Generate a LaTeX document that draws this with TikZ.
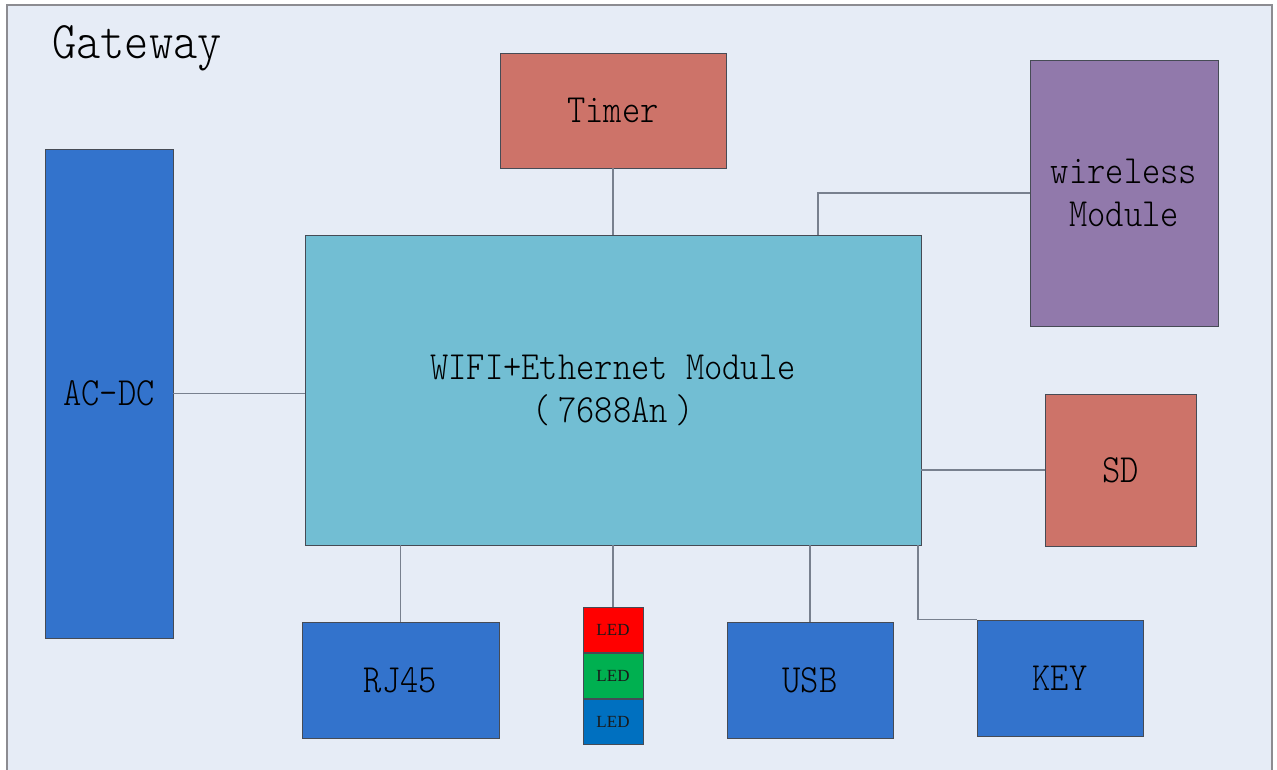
\documentclass[tikz,border=0pt]{standalone}
\usepackage{fontspec}
\usepackage{graphicx}
\newfontfamily\thinmono{Latin Modern Mono Light}
\newfontfamily\ledfont{Liberation Serif}
\definecolor{pagebg}{RGB}{230,236,246}
\definecolor{framegray}{RGB}{140,140,145}
\definecolor{edgegray}{RGB}{70,75,85}
\definecolor{wiregray}{RGB}{120,128,142}
\definecolor{bluebox}{RGB}{51,115,204}
\definecolor{redbox}{RGB}{205,115,105}
\definecolor{violetbox}{RGB}{145,121,171}
\definecolor{cyanbox}{RGB}{114,190,211}
\definecolor{ledred}{RGB}{255,0,0}
\definecolor{ledgreen}{RGB}{0,176,80}
\definecolor{ledblue}{RGB}{0,112,192}
% narrow monospaced lettering
\newcommand\sq[1]{\scalebox{0.87}[1]{#1}}
\tikzset{
  block/.style={draw=edgegray, line width=0.9pt, inner sep=0pt, align=center,
    font=\fontsize{40}{43}\selectfont\thinmono, text=black},
  ledbox/.style={draw=edgegray, line width=0.9pt, inner sep=0pt,
    minimum width=60pt, minimum height=45.3pt,
    font=\fontsize{17}{18}\selectfont\ledfont, text=black!90},
  wire/.style={draw=wiregray, line width=1.1pt}
}
\begin{document}
\begin{tikzpicture}[x=1pt, y=-1pt]
\useasboundingbox (0,0) rectangle (1277,769);
\clip (0,0) rectangle (1277,769);
% outer frame
\draw[fill=pagebg, draw=framegray, line width=1.5pt] (7,5) rectangle (1272,790);
\node[anchor=base west, inner sep=0pt, font=\fontsize{53}{56}\selectfont\thinmono, text=black]
  (title) at (52,58) {\sq{Gateway}};

% blocks
\node[block, fill=bluebox, minimum width=128pt, minimum height=489pt] (acdc) at (109,393.5) {\sq{AC-DC}};
\node[block, fill=redbox, minimum width=226pt, minimum height=115pt] (timer) at (613,110.5) {\sq{Timer}};
\node[block, fill=violetbox, minimum width=188pt, minimum height=266pt] (wireless) at (1124,193) {\sq{wireless}\\\sq{Module}};
\node[block, fill=cyanbox, minimum width=616pt, minimum height=310pt] (main) at (613,390)
  {\sq{WIFI+Ethernet Module}\\\sq{(\hspace{9pt}7688An\hspace{9pt})}};
\node[block, fill=redbox, minimum width=151pt, minimum height=152pt] (sd) at (1120.5,470) {\sq{SD}};
\node[block, fill=bluebox, minimum width=197pt, minimum height=116pt] (rj45) at (400.5,680) {\sq{RJ45}};
\node[block, fill=bluebox, minimum width=166pt, minimum height=116pt] (usb) at (810,680) {\sq{USB}};
\node[block, fill=bluebox, minimum width=166pt, minimum height=116pt] (key) at (1060,678) {\sq{KEY}};

% LED stack
\node[ledbox, fill=ledred] (led1) at (613,629.7) {LED};
\node[ledbox, fill=ledgreen, anchor=north] (led2) at (led1.south) {LED};
\node[ledbox, fill=ledblue, anchor=north] (led3) at (led2.south) {LED};

% taps on the module edge
\coordinate (wtap) at (818,235);
\coordinate (ktap) at (918,545);

% connections
\draw[wire] (timer.south) -- (main.north);
\draw[wire] (wtap) |- (wireless.west);
\draw[wire] (acdc.east) -- (acdc.east -| main.west);
\draw[wire] (sd.west -| main.east) -- (sd.west);
\draw[wire] (rj45.north) -- (rj45.north |- main.south);
\draw[wire] (led1.north) -- (led1.north |- main.south);
\draw[wire] (usb.north) -- (usb.north |- main.south);
\draw[wire] (ktap) |- (key.north west);
\end{tikzpicture}
\end{document}
